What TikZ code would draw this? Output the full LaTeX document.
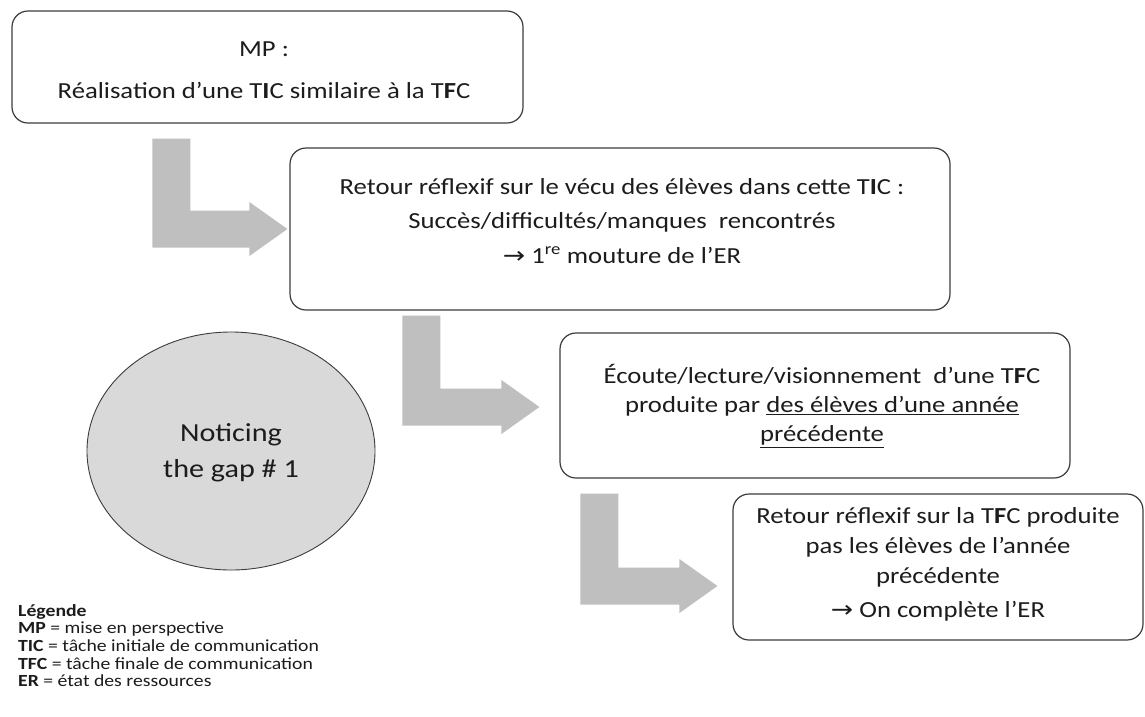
\documentclass[tikz,border=0pt]{standalone}
\usepackage{fontspec}
\setmainfont{Carlito}[FakeStretch=1.16]
\newfontfamily\symfont{DejaVu Sans}[FakeStretch=1.16]
\usetikzlibrary{calc,shapes.geometric}

\definecolor{arrowgrey}{RGB}{191,191,191}
\definecolor{ovalgrey}{RGB}{217,217,217}
\definecolor{edgegrey}{RGB}{60,60,60}
\definecolor{inkcol}{RGB}{28,28,28}

\newcommand\TFC{T\textbf{F}C}
\newcommand\TIC{T\textbf{I}C}
\newcommand\rarr{{\symfont →}}

% grey bent block arrow: #1 = top-left corner of the stem, #2 = arrow tip
\newcommand\bentarrow[2]{%
  \fill[arrowgrey] let \p1=(#1), \p2=(#2) in
    (\x1,\y1) -- (\x1+38pt,\y1) -- (\x1+38pt,\y2+18.5pt)
    -- (\x2-38pt,\y2+18.5pt) -- (\x2-38pt,\y2+27pt) -- (\x2,\y2)
    -- (\x2-38pt,\y2-27pt) -- (\x2-38pt,\y2-18.5pt) -- (\x1,\y2-18.5pt) -- cycle;}

\begin{document}
\begin{tikzpicture}[x=1pt,y=-1pt,
  stepbox/.style={draw=edgegrey, line width=1.2pt, rounded corners=16pt,
    fill=white, inner sep=0pt},
  boxtext/.style={align=center, text=inkcol, inner sep=0pt},
  oval/.style={ellipse, draw=edgegrey, line width=0.9pt, fill=ovalgrey,
    inner sep=0pt, minimum width=288pt, minimum height=238pt}]
\useasboundingbox[fill=white] (0,0) rectangle (1145,716);

% boxes
\node[stepbox, minimum width=511pt, minimum height=112pt] (b1) at (267.5,67) {};
\node[stepbox, minimum width=660pt, minimum height=162pt] (b2) at (620,229) {};
\node[stepbox, minimum width=510pt, minimum height=145pt] (b3) at (815,405.5) {};
\node[stepbox, minimum width=410pt, minimum height=146pt] (b4) at (938,567) {};

% box texts
\node[boxtext, font=\fontsize{23}{42}\selectfont] (t1) at (264,70)
  {MP :\\Réalisation d’une \TIC{} similaire à la \TFC};
\node[boxtext, font=\fontsize{23}{34.5}\selectfont] (t2) at (622,221)
  {Retour réflexif sur le vécu des élèves dans cette \TIC{} :\\
   Succès/difficultés/manques\ \ rencontrés\\
   \rarr{} 1\textsuperscript{re} mouture de l’ER};
\node[boxtext, font=\fontsize{23}{29}\selectfont] (t3) at (822,406)
  {Écoute/lecture/visionnement\ \ d’une \TFC\\
   produite par \underline{des élèves d’une année}\\
   \underline{précédente}};
\node[boxtext, font=\fontsize{23}{30}\selectfont] (t4) at (938,564)
  {Retour réflexif sur la \TFC{} produite\\
   pas les élèves de l’année\\
   précédente\\[4pt]
   \rarr{} On complète l’ER};

% bent arrows between the steps
\coordinate (s1) at ($(b1.south west)+(141,15)$);
\coordinate (e1) at ($(b2.west)+(-2,0)$);
\coordinate (s2) at ($(b2.south west)+(113,5)$);
\coordinate (e2) at ($(b3.west)+(-20,1.5)$);
\coordinate (s3) at ($(b3.south west)+(21,15)$);
\coordinate (e3) at ($(b4.west)+(-15,19)$);
\bentarrow{s1}{e1}
\bentarrow{s2}{e2}
\bentarrow{s3}{e3}

% noticing the gap
\node[oval] (gap) at (231,451) {};
\node[boxtext, font=\fontsize{26}{36}\selectfont] (gaptxt) at (231,453)
  {Noticing\\the gap \# 1};

% legend
\node[anchor=north west, align=left, inner sep=0pt, text=inkcol,
  font=\fontsize{17}{17.7}\selectfont] (legend) at (18,604)
  {\textbf{Légende}\\
   \textbf{MP} = mise en perspective\\
   \textbf{TIC} = tâche initiale de communication\\
   \textbf{TFC} = tâche finale de communication\\
   \textbf{ER} = état des ressources};
\end{tikzpicture}
\end{document}
